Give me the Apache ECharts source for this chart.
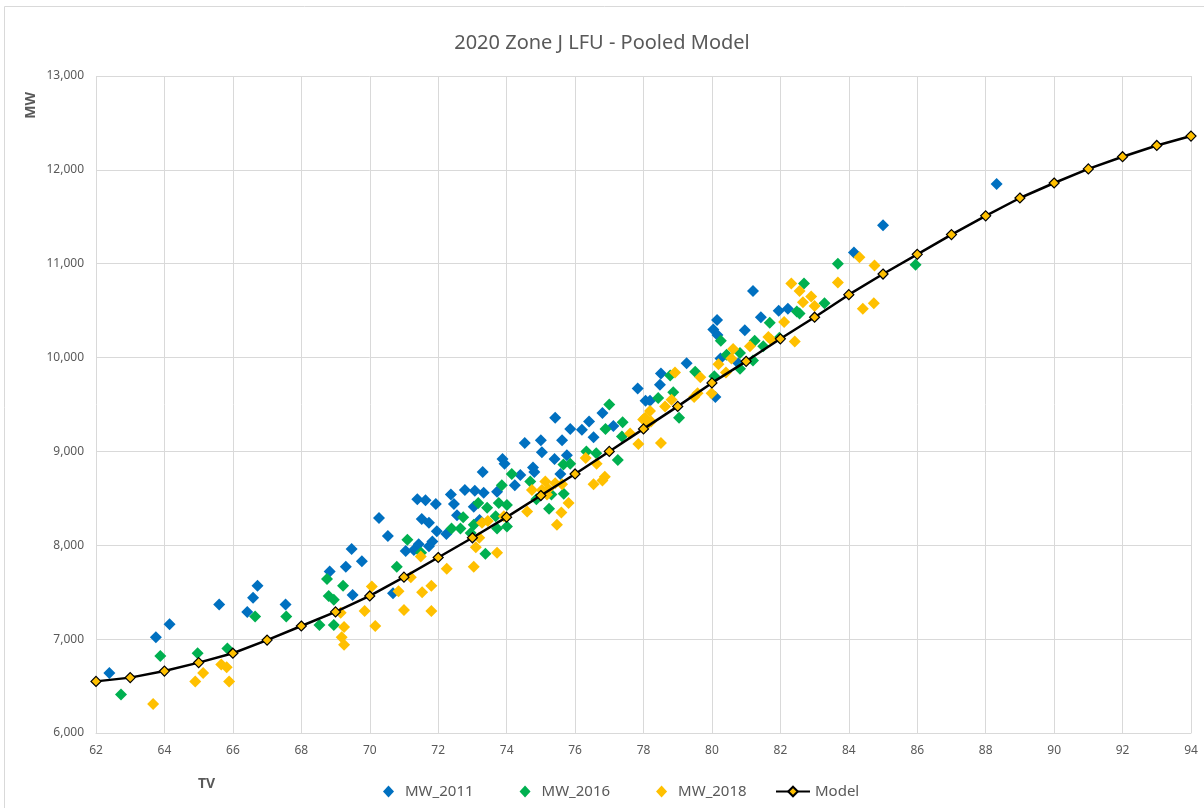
<!DOCTYPE html>
<html>
<head>
<meta charset="utf-8">
<title>2020 Zone J LFU - Pooled Model</title>
<script src="https://cdn.jsdelivr.net/npm/echarts@6/dist/echarts.min.js"></script>
<style>
  html, body { margin: 0; padding: 0; background: #fff; }
  #chart { width: 1204px; height: 808px; }
</style>
</head>
<body>
<div id="chart"></div>
<script>
// [TV, MW] points
const mw2011 = [[62.39,6640],[63.75,7020],[64.15,7160],[65.6,7370],[66.42,7290],[66.59,7440],[66.72,7570],[67.54,7370],[68.83,7720],[69.3,7770],[69.47,7960],[69.5,7470],[69.77,7830],[70.27,8290],[70.53,8100],[70.68,7490],[71.05,7940],[71.29,7950],[71.43,8010],[71.73,7990],[71.83,8040],[71.52,8280],[71.73,8240],[71.39,8490],[71.63,8480],[71.93,8440],[71.96,8150],[72.24,8120],[72.37,8540],[72.46,8440],[72.78,8590],[73.07,8580],[73.33,8560],[73.3,8780],[72.55,8320],[73.04,8410],[73.21,8270],[75.42,9360],[75.86,9240],[76.2,9230],[76.41,9320],[76.54,9150],[74.53,9090],[75.0,9120],[75.62,9120],[75.03,8990],[75.4,8920],[75.76,8960],[73.88,8920],[73.94,8870],[74.77,8830],[74.81,8780],[74.4,8750],[74.24,8640],[75.57,8760],[73.72,8570],[79.26,9940],[78.51,9830],[78.48,9710],[77.83,9670],[78.06,9540],[78.19,9540],[80.1,9580],[77.12,9270],[76.8,9410],[84.15,11120],[81.2,10710],[81.95,10500],[82.22,10520],[81.43,10430],[80.15,10400],[80.04,10300],[80.16,10240],[80.96,10290],[80.25,9990],[80.77,9940],[88.32,11850],[85.0,11410]];

const mw2016 = [[62.73,6410],[63.88,6820],[64.97,6850],[65.84,6900],[66.65,7240],[67.56,7240],[68.75,7640],[69.22,7570],[68.8,7460],[68.95,7420],[68.53,7150],[68.95,7150],[70.79,7770],[71.1,8060],[71.5,7920],[72.39,8180],[72.73,8300],[72.65,8180],[73.17,8450],[72.95,8130],[73.38,7910],[74.15,8760],[73.86,8640],[74.69,8680],[73.77,8450],[74.01,8430],[73.43,8400],[73.68,8310],[73.72,8180],[74.01,8200],[73.04,8220],[74.87,8490],[75.24,8390],[80.26,10180],[78.78,9810],[79.51,9850],[80.07,9800],[80.43,10030],[78.87,9630],[78.43,9570],[79.04,9360],[77.0,9500],[76.89,9240],[77.39,9310],[77.37,9160],[76.33,9000],[76.62,8980],[77.25,8910],[75.86,8870],[75.66,8860],[75.67,8550],[75.31,8540],[83.68,11000],[82.69,10790],[83.29,10580],[82.56,10470],[82.48,10490],[81.69,10370],[81.97,10210],[81.25,10180],[81.5,10120],[80.82,10050],[81.2,9970],[80.82,9880],[85.95,10990]];

const mw2018 = [[63.67,6310],[64.9,6550],[65.13,6640],[65.66,6730],[65.82,6700],[65.89,6550],[69.15,7280],[69.25,7130],[69.18,7020],[69.25,6940],[69.85,7300],[70.06,7560],[70.16,7140],[70.84,7510],[71.0,7310],[71.2,7660],[71.49,7880],[71.53,7500],[71.8,7570],[71.8,7300],[72.25,7750],[73.04,7770],[73.1,7980],[73.2,8080],[73.28,8240],[73.45,8260],[74.74,8590],[75.03,8590],[75.13,8680],[75.18,8540],[75.22,8600],[75.42,8660],[75.62,8650],[75.81,8450],[75.6,8350],[75.47,8220],[74.6,8360],[76.31,8930],[76.54,8650],[73.92,8310],[73.72,7920],[78.92,9840],[79.66,9790],[80.19,9930],[80.41,9840],[80.57,9990],[78.82,9550],[78.63,9480],[78.19,9430],[79.48,9580],[79.58,9620],[79.99,9620],[77.99,9340],[78.05,9360],[78.14,9300],[78.22,9320],[77.85,9080],[78.51,9090],[77.61,9190],[76.63,8870],[76.87,8730],[76.8,8690],[84.31,11070],[84.75,10980],[82.32,10790],[82.56,10710],[83.68,10800],[82.66,10590],[82.9,10650],[83.0,10550],[84.41,10520],[84.73,10580],[82.11,10380],[82.42,10170],[81.73,10190],[81.65,10220],[81.11,10120],[80.62,10090]];

// model curve
const modelTv = [62,63,64,65,66,67,68,69,70,71,72,73,74,75,76,77,78,79,80,81,82,83,84,85,86,87,88,89,90,91,92,93,94];
const modelMw = [6550,6590,6660,6750,6850,6990,7140,7290,7460,7660,7870,8080,8300,8530,8760,9000,9240,9480,9730,9960,10200,10430,10670,10890,11100,11310,11510,11700,11860,12010,12140,12260,12360];

const font = 'Noto Sans, Liberation Sans, sans-serif';
const gridColor = '#d9d9d9';
const textColor = '#595959';

const chart = echarts.init(document.getElementById('chart'));

function scatter(name, data, color) {
  return {
    name: name,
    type: 'scatter',
    data: data,
    symbol: 'diamond',
    symbolSize: 12,
    itemStyle: { color: color, opacity: 1 },
    z: 2
  };
}

const legendText = { fontFamily: font, fontSize: 15, color: textColor, padding: [0, 0, 0, 6] };

chart.setOption({
  animation: false,
  title: {
    text: '2020 Zone J LFU - Pooled Model',
    left: 'center',
    top: 28,
    textStyle: { fontFamily: font, fontSize: 20, fontWeight: 'normal', color: textColor }
  },
  grid: { left: 96, right: 13, top: 76, bottom: 75 },
  // two legends: small diamonds for the scatter sets, wider line icon for the model
  legend: [
    {
      left: 378,
      top: 779,
      itemGap: 46,
      itemWidth: 11,
      itemHeight: 12,
      textStyle: legendText,
      data: [
        { name: 'MW_2011', icon: 'diamond' },
        { name: 'MW_2016', icon: 'diamond' },
        { name: 'MW_2018', icon: 'diamond' }
      ]
    },
    {
      left: 770,
      top: 779,
      itemWidth: 34,
      itemHeight: 12,
      textStyle: { fontFamily: font, fontSize: 15, color: textColor },
      data: ['Model']
    }
  ],
  xAxis: {
    type: 'value',
    min: 62,
    max: 94,
    interval: 2,
    axisLine: { show: true, lineStyle: { color: gridColor } },
    axisTick: { show: false },
    axisLabel: { margin: 12, fontFamily: font, fontSize: 12, color: textColor },
    splitLine: { show: true, lineStyle: { color: gridColor, width: 1 } }
  },
  yAxis: {
    type: 'value',
    min: 6000,
    max: 13000,
    interval: 1000,
    axisLine: { show: false },
    axisTick: { show: false },
    axisLabel: {
      margin: 12,
      fontFamily: font,
      fontSize: 12,
      color: textColor,
      formatter: function (v) { return v.toLocaleString('en-US'); }
    },
    splitLine: { show: true, lineStyle: { color: gridColor, width: 1 } }
  },
  graphic: [
    {
      type: 'rect',
      shape: { x: 4.5, y: 6.5, width: 1210, height: 820 },
      style: { fill: null, stroke: '#d9d9d9', lineWidth: 1 },
      silent: true
    },
    {
      type: 'text',
      left: 24,
      top: 92,
      rotation: Math.PI / 2,
      style: { text: 'MW', font: 'bold 14px ' + font, fill: textColor }
    },
    {
      type: 'text',
      left: 198,
      top: 777,
      style: { text: 'TV', font: 'bold 14px ' + font, fill: textColor }
    }
  ],
  series: [
    scatter('MW_2011', mw2011, '#0070C0'),
    scatter('MW_2016', mw2016, '#00B050'),
    scatter('MW_2018', mw2018, '#FFC000'),
    {
      name: 'Model',
      type: 'line',
      data: modelTv.map((t, i) => [t, modelMw[i]]),
      symbol: 'diamond',
      symbolSize: 10,
      showAllSymbol: true,
      lineStyle: { color: '#000', width: 2.5 },
      itemStyle: { color: '#FFC000', borderColor: '#000', borderWidth: 1.2 },
      z: 3
    }
  ]
});
</script>
</body>
</html>
